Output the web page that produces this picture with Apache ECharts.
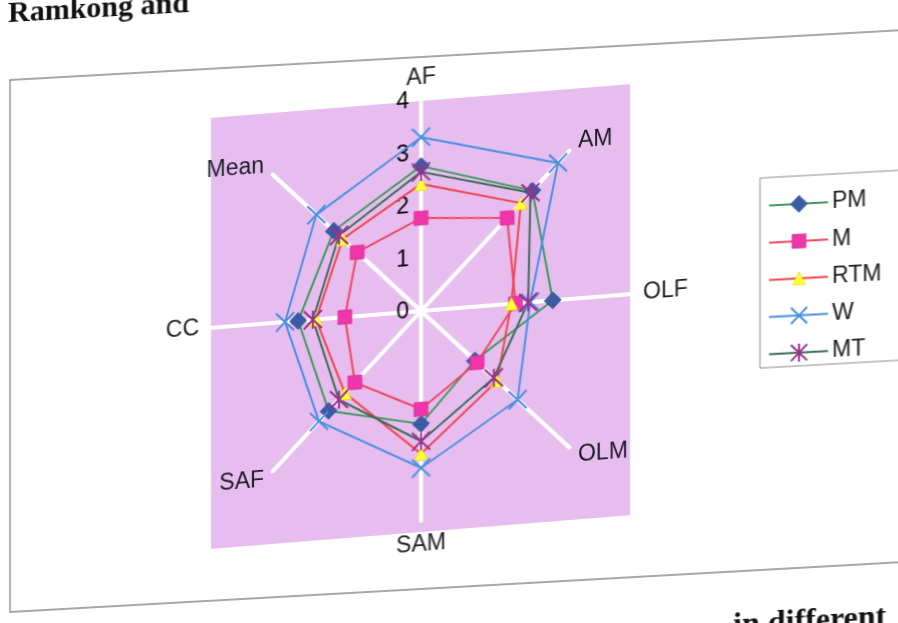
<!DOCTYPE html>
<html>
<head>
<meta charset="utf-8">
<script src="https://cdn.jsdelivr.net/npm/echarts@6.0.0/dist/echarts.min.js"></script>
<style>
  html, body { margin: 0; padding: 0; background: #fff; overflow: hidden; width: 898px; height: 623px; }
  /* the printed page is slightly sheared (more so around the plot); the canvases are
     oversized so the shear leaves no gaps */
  .layer { position: absolute; left: -30px; top: -40px; width: 960px; height: 720px;
           transform-origin: 451px 351px; }
  #page { transform: skewY(-3.2deg); }
  #plot { transform: skewY(-4.6deg); pointer-events: none; }
</style>
</head>
<body>
<div id="page" class="layer"></div>
<div id="plot" class="layer"></div>
<script>
// Radar axes, listed clockwise from the top
const axes = ['AF', 'AM', 'OLF', 'OLM', 'SAM', 'SAF', 'CC', 'Mean'];
const tickValues = [0, 1, 2, 3, 4];

// Scores per axis for each group
const PM  = [2.76, 3.00, 2.51, 1.45, 2.15, 2.49, 2.34, 2.35];
const M   = [1.77, 2.32, 1.80, 1.51, 1.87, 1.78, 1.45, 1.72];
const RTM = [2.42, 2.69, 1.72, 2.05, 2.72, 2.05, 2.00, 2.11];
const W   = [3.31, 3.69, 2.08, 2.60, 2.99, 2.75, 2.59, 2.82];
const MT  = [2.65, 2.95, 2.04, 1.96, 2.48, 2.21, 2.06, 2.21];

const groupNames = ['PM', 'M', 'RTM', 'W', 'MT'];
const groupValues = [PM, M, RTM, W, MT];

// Drawing styles
const look = {
  PM:  { line: '#3f9b5f', fill: '#3b5ba6', border: '#2c437e', bw: 0.6, symbol: 'diamond', size: 17 },
  M:   { line: '#f2435c', fill: '#ee36a9', border: '#d52a94', bw: 0.6, symbol: 'rect', size: 14 },
  RTM: { line: '#f2434b', fill: '#ffff3a', border: '#e8d400', bw: 0.6, symbol: 'triangle', size: 13 },
  W:   { line: '#4a8fe2', fill: 'rgba(0,0,0,0)', border: '#4a8fe2', bw: 2, symbol: 'cross', size: 18 },
  MT:  { line: '#3d6a55', fill: 'rgba(0,0,0,0)', border: '#98318c', bw: 2, symbol: 'star', size: 18 }
};
const symbolPaths = {
  cross: 'path://M0,0L20,20M20,0L0,20',
  star: 'path://M0,0L20,20M20,0L0,20M10,0L10,20'
};

const OX = 30, OY = 40;                 // page origin inside the canvases
const CX = 421 + OX, CY = 311 + OY, R = 210;
const FONT = '"Liberation Sans", Arial, sans-serif';
const SERIF = '"Liberation Serif", "Times New Roman", serif';

// ECharts lays radar axes counter-clockwise, so feed them in reverse after the first
const order = axes.map((_, i) => (i === 0 ? 0 : axes.length - i));
const pick = arr => order.map(i => arr[i]);

const indicator = pick(axes).map((name, i) => ({
  name: name, min: tickValues[0], max: tickValues[tickValues.length - 1],
  axisLabel: { show: i === 0 }
}));

const series = groupNames.map((name, gi) => {
  const s = look[name];
  return {
    type: 'radar',
    name: name,
    symbol: symbolPaths[s.symbol] || s.symbol,
    symbolSize: s.size,
    lineStyle: { color: s.line, width: 2 },
    itemStyle: { color: s.fill, borderColor: s.border, borderWidth: s.bw },
    data: [{ name: name, value: pick(groupValues[gi]) }]
  };
});

// Legend: a boxed list with line + marker keys
const LEG = { x: 760 + OX, y: 197 + OY, w: 160, h: 190, row0: 225 + OY, step: 37.2, key: 799 + OX };
function keyMarker(s, x, y) {
  const h = s.size / 2;
  const els = [];
  if (s.symbol === 'diamond') {
    els.push({ type: 'polygon', shape: { points: [[x, y - h], [x + h, y], [x, y + h], [x - h, y]] },
               style: { fill: s.fill, stroke: s.border, lineWidth: s.bw } });
  } else if (s.symbol === 'rect') {
    els.push({ type: 'rect', shape: { x: x - h, y: y - h, width: s.size, height: s.size },
               style: { fill: s.fill, stroke: s.border, lineWidth: s.bw } });
  } else if (s.symbol === 'triangle') {
    els.push({ type: 'polygon', shape: { points: [[x, y - h], [x + h, y + h], [x - h, y + h]] },
               style: { fill: s.fill, stroke: s.border, lineWidth: s.bw } });
  } else {
    const k = h * 0.9;
    els.push({ type: 'line', shape: { x1: x - k, y1: y - k, x2: x + k, y2: y + k }, style: { stroke: s.border, lineWidth: 2 } });
    els.push({ type: 'line', shape: { x1: x + k, y1: y - k, x2: x - k, y2: y + k }, style: { stroke: s.border, lineWidth: 2 } });
    if (s.symbol === 'star') {
      els.push({ type: 'line', shape: { x1: x, y1: y - h, x2: x, y2: y + h }, style: { stroke: s.border, lineWidth: 2 } });
    }
  }
  return els;
}
const legendEls = [{ type: 'rect', shape: { x: LEG.x, y: LEG.y, width: LEG.w, height: LEG.h },
                     style: { fill: '#fff', stroke: '#8c8c8c', lineWidth: 1 } }];
groupNames.forEach((name, i) => {
  const s = look[name];
  const y = LEG.row0 + i * LEG.step;
  legendEls.push({ type: 'line', shape: { x1: LEG.key - 30, y1: y, x2: LEG.key + 29, y2: y },
                   style: { stroke: s.line, lineWidth: 2 } });
  keyMarker(s, LEG.key, y).forEach(e => legendEls.push(e));
  legendEls.push({ type: 'text', x: LEG.key + 33, y: y,
                   style: { text: name, font: '23px ' + FONT, fill: '#1b1b1b', verticalAlign: 'middle' } });
});

// Page layer: surrounding text, figure frame and legend
const page = echarts.init(document.getElementById('page'), null, { renderer: 'canvas' });
page.setOption({
  animation: false,
  backgroundColor: '#fff',
  graphic: [
    { type: 'text', x: 8 + OX, y: 46,
      style: { text: 'Ramkong and', font: 'bold 30px ' + SERIF, fill: '#111', verticalAlign: 'bottom' } },
    { type: 'text', x: 733 + OX, y: 700,
      style: { text: 'in different', font: 'bold 32px ' + SERIF, fill: '#111', verticalAlign: 'bottom' } },
    { type: 'rect', shape: { x: 10 + OX, y: 57 + OY, width: 920, height: 532 },
      style: { fill: '#fff', stroke: '#8a8a8a', lineWidth: 1.3 } },
    { type: 'group', z: 5, children: legendEls }
  ]
});

// Plot layer: shaded plot area and the radar itself
const plot = echarts.init(document.getElementById('plot'), null, { renderer: 'canvas' });
plot.setOption({
  animation: false,
  backgroundColor: 'rgba(0,0,0,0)',
  graphic: [
    { type: 'rect', z: 0, shape: { x: CX - 210, y: CY - 210, width: 419, height: 431 },
      style: { fill: '#e7bdf0' } }
  ],
  radar: {
    z: 1,
    center: [CX, CY],
    radius: R,
    startAngle: 90,
    splitNumber: tickValues.length - 1,
    shape: 'polygon',
    axisNameGap: 12,
    axisName: { color: '#1b1b24', fontSize: 23, fontFamily: FONT },
    axisLine: { lineStyle: { color: '#ffffff', width: 4 } },
    axisTick: { show: false },
    axisLabel: { show: false, color: '#000', fontSize: 23, fontFamily: FONT, margin: 12 },
    splitLine: { show: false },
    splitArea: { show: false },
    indicator: indicator
  },
  series: series
});
</script>
</body>
</html>
